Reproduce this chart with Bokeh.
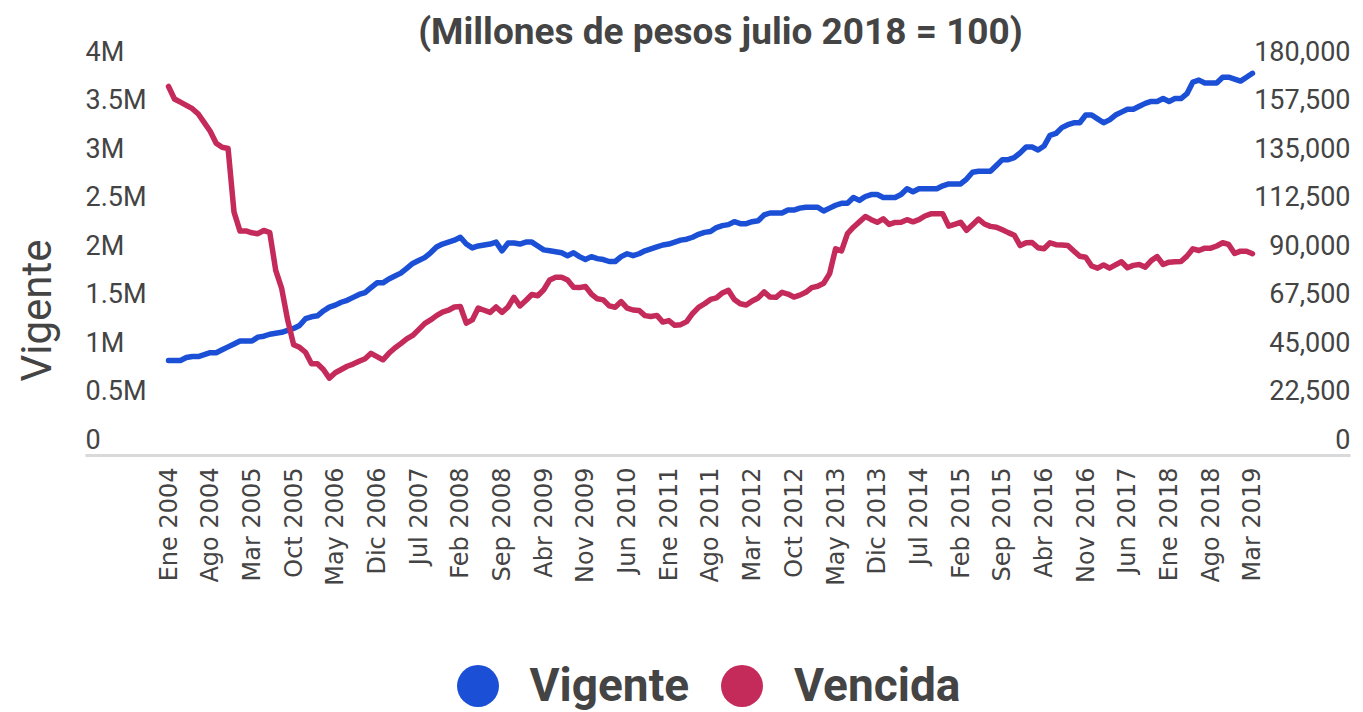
import math
from bokeh.plotting import figure
from bokeh.layouts import row, column
from bokeh.models import (Range1d, FixedTicker, ColumnDataSource, LabelSet, Label,
                          Legend, LegendItem)
from bokeh.core.properties import value
from bokeh.embed import file_html
from bokeh.resources import INLINE

# ---------------- data ----------------
meses = ["Ene", "Feb", "Mar", "Abr", "May", "Jun", "Jul", "Ago", "Sep", "Oct", "Nov", "Dic"]
fechas = [f"{m} {a}" for a in range(2004, 2020) for m in meses][:183]   # Ene 2004 .. Mar 2019

# Cartera vigente (millones de pesos, expressed in M)
vigente_M = [
    0.98, 0.98, 0.98, 1.01, 1.02, 1.02, 1.04, 1.06, 1.06, 1.09, 1.12, 1.15,
    1.18, 1.18, 1.18, 1.22, 1.23, 1.25, 1.26, 1.27, 1.29, 1.31, 1.34, 1.41,
    1.43, 1.44, 1.49, 1.53, 1.55, 1.58, 1.60, 1.63, 1.66, 1.68, 1.73, 1.78,
    1.78, 1.82, 1.85, 1.88, 1.93, 1.98, 2.01, 2.04, 2.09, 2.15, 2.18, 2.20,
    2.22, 2.25, 2.18, 2.14, 2.16, 2.17, 2.18, 2.20, 2.11, 2.19, 2.19, 2.18,
    2.20, 2.20, 2.16, 2.12, 2.11, 2.10, 2.09, 2.06, 2.09, 2.05, 2.02, 2.05,
    2.03, 2.02, 2.00, 2.00, 2.05, 2.08, 2.06, 2.08, 2.11, 2.13, 2.15, 2.17,
    2.18, 2.20, 2.22, 2.23, 2.25, 2.28, 2.30, 2.31, 2.35, 2.37, 2.38, 2.41,
    2.39, 2.39, 2.41, 2.42, 2.48, 2.50, 2.50, 2.50, 2.53, 2.53, 2.55, 2.56,
    2.56, 2.56, 2.52, 2.55, 2.58, 2.60, 2.60, 2.66, 2.63, 2.67, 2.69, 2.69,
    2.66, 2.66, 2.66, 2.69, 2.75, 2.72, 2.75, 2.75, 2.75, 2.75, 2.78, 2.80,
    2.80, 2.80, 2.85, 2.92, 2.93, 2.93, 2.93, 2.99, 3.05, 3.05, 3.07, 3.12,
    3.18, 3.18, 3.15, 3.19, 3.30, 3.32, 3.38, 3.41, 3.43, 3.43, 3.51, 3.51,
    3.47, 3.43, 3.46, 3.51, 3.54, 3.57, 3.57, 3.60, 3.63, 3.65, 3.65, 3.68,
    3.65, 3.68, 3.68, 3.73, 3.85, 3.87, 3.84, 3.84, 3.84, 3.90, 3.90, 3.88,
    3.86, 3.90, 3.94,
]

# Cartera vencida (miles de millones de pesos)
vencida_miles = [
    171.2, 165.4, 163.9, 162.4, 160.9, 158.4, 154.4, 150.4, 144.9, 143.0, 142.4, 112.9,
    104.1, 104.2, 103.3, 102.9, 104.4, 103.4, 85.9, 77.5, 62.9, 51.4, 50.2, 47.9,
    42.6, 42.6, 39.9, 35.9, 38.4, 39.9, 41.4, 42.4, 43.7, 44.9, 47.4, 45.9,
    44.4, 47.4, 49.9, 51.9, 54.1, 55.7, 58.4, 61.2, 62.9, 64.9, 66.5, 67.4,
    68.9, 69.1, 61.4, 62.9, 68.4, 67.4, 66.4, 68.9, 66.4, 68.9, 73.4, 69.4,
    71.9, 74.7, 74.1, 76.9, 81.4, 82.7, 82.7, 81.4, 78.1, 77.9, 78.4, 74.9,
    72.7, 72.2, 69.4, 68.8, 71.4, 68.4, 67.5, 67.3, 64.9, 64.5, 65.0, 61.9,
    62.6, 60.4, 60.7, 62.1, 65.9, 68.7, 70.4, 72.4, 73.1, 75.4, 76.6, 72.4,
    70.4, 69.8, 71.7, 73.1, 75.9, 73.5, 73.4, 75.7, 74.9, 73.5, 74.4, 75.7,
    77.9, 78.5, 79.9, 84.4, 95.9, 94.9, 102.9, 105.9, 108.4, 110.9, 109.4, 108.2,
    109.8, 107.2, 108.1, 108.2, 109.4, 108.4, 109.4, 111.1, 112.1, 112.1, 112.1, 106.4,
    107.2, 108.2, 104.5, 107.1, 109.7, 107.4, 106.3, 105.9, 104.7, 103.4, 102.2, 97.4,
    98.7, 98.8, 96.4, 95.9, 98.7, 97.8, 97.6, 97.4, 94.9, 92.4, 92.0, 87.9,
    86.9, 88.4, 86.9, 88.4, 89.9, 87.1, 88.2, 88.6, 87.4, 90.4, 92.3, 88.6,
    89.7, 89.9, 90.0, 92.5, 95.9, 95.1, 96.2, 96.2, 97.2, 98.7, 97.9, 93.7,
    94.8, 94.8, 93.6,
]

ticks_izq = [0, 0.5, 1, 1.5, 2, 2.5, 3, 3.5, 4]
etiq_izq = ["0", "0.5M", "1M", "1.5M", "2M", "2.5M", "3M", "3.5M", "4M"]
ticks_der = [0, 22.5, 45, 67.5, 90, 112.5, 135, 157.5, 180]
etiq_der = ["0", "22,500", "45,000", "67,500", "90,000", "112,500", "135,000", "157,500", "180,000"]

titulo = "(Millones de pesos julio 2018 = 100)"
series = ["Vigente", "Vencida"]

# ---------------- styling / layout ----------------
AZUL = "#1a4fd6"
ROJO = "#c42a5a"
GRIS = "#444444"

FRAME_W, FRAME_H = 1265, 455      # plot area; value 0 sits on its bottom edge
SCALE_H = 388                      # pixels from 0 to the top tick (4M / 180,000)
MAIN_H = 600
LEG_H = 712 - MAIN_H
LEFT_W = 85

idx = list(range(len(fechas)))

p = figure(frame_width=FRAME_W, frame_height=FRAME_H,
           x_range=Range1d(-13.94, 198.46),
           y_range=Range1d(0, ticks_izq[-1] * FRAME_H / SCALE_H),
           output_backend="svg", toolbar_location=None, y_axis_location=None,
           min_border_left=0, min_border_right=13, min_border_top=0,
           min_border_bottom=MAIN_H - FRAME_H,
           background_fill_color="white", border_fill_color="white", outline_line_color=None)
p.extra_y_ranges = {"venc": Range1d(0, ticks_der[-1] * FRAME_H / SCALE_H)}

p.xgrid.visible = False
p.ygrid.visible = False

ax = p.xaxis[0]
tick_pos = list(range(0, len(fechas), 7))
ax.ticker = FixedTicker(ticks=tick_pos)
ax.major_label_overrides = {i: fechas[i] for i in tick_pos}
ax.major_label_orientation = math.pi / 2
ax.major_label_text_font = "DejaVu Sans"
ax.major_label_text_font_size = "24px"
ax.major_label_text_color = GRIS
ax.major_label_standoff = 12
ax.major_tick_out = 0
ax.major_tick_in = 0
ax.minor_tick_out = 0
ax.minor_tick_in = 0
ax.axis_line_color = "#d9d9d9"
ax.axis_line_width = 3

p.line(idx, vigente_M, color=AZUL, line_width=5.5, line_join="round", line_cap="round")
p.line(idx, vencida_miles, y_range_name="venc", color=ROJO, line_width=5.5,
       line_join="round", line_cap="round")

src_izq = ColumnDataSource(dict(y=ticks_izq, text=etiq_izq))
src_der = ColumnDataSource(dict(y=ticks_der, text=etiq_der))
p.add_layout(LabelSet(x=0, y="y", text="text", source=src_izq, x_units="screen",
                      text_align="left", text_baseline="alphabetic", y_offset=7,
                      text_font=value("Roboto"), text_font_size="27px", text_color=GRIS))
p.add_layout(LabelSet(x=FRAME_W, y="y", text="text", source=src_der, x_units="screen",
                      y_range_name="venc",
                      text_align="right", text_baseline="alphabetic", y_offset=7,
                      text_font=value("Roboto"), text_font_size="27px", text_color=GRIS))

# title, drawn inside the plot area (top band)
p.add_layout(Label(x=635, y=FRAME_H - 31, x_units="screen", y_units="screen", text=titulo,
                   text_align="center", text_baseline="middle",
                   text_font="Roboto", text_font_style="bold", text_font_size="37px",
                   text_color=GRIS))

# ---- left strip with the axis title ----
izq = figure(width=LEFT_W, height=712, x_range=Range1d(0, 1), y_range=Range1d(0, 1),
             output_backend="svg", toolbar_location=None,
             x_axis_location=None, y_axis_location=None,
             min_border=0, outline_line_color=None,
             background_fill_color="white", border_fill_color="white")
izq.xgrid.visible = False
izq.ygrid.visible = False
izq.add_layout(Label(x=36, y=712 - 310, x_units="screen", y_units="screen", text=series[0],
                     angle=math.pi / 2, text_align="center", text_baseline="middle",
                     text_font="Roboto", text_font_size="42px", text_color=GRIS))

# ---- legend strip ----
ley = figure(width=FRAME_W + 13, height=LEG_H, x_range=Range1d(0, 1), y_range=Range1d(0, 1),
             output_backend="svg", toolbar_location=None,
             x_axis_location=None, y_axis_location=None,
             min_border=0, outline_line_color=None,
             background_fill_color="white", border_fill_color="white")
ley.xgrid.visible = False
ley.ygrid.visible = False
nan = float("nan")
r_b = ley.scatter(x=[nan], y=[nan], marker="circle", size=10, fill_color=AZUL, line_color=None)
r_r = ley.scatter(x=[nan], y=[nan], marker="circle", size=10, fill_color=ROJO, line_color=None)
legend = Legend(items=[LegendItem(label=series[0], renderers=[r_b]),
                       LegendItem(label=series[1], renderers=[r_r])],
                location=(339.5, -25.5), orientation="horizontal",
                glyph_width=105, glyph_height=105, label_standoff=0, spacing=-8,
                padding=0, margin=0, border_line_color=None, background_fill_alpha=0,
                label_text_font="Roboto", label_text_font_style="bold",
                label_text_font_size="46px", label_text_color=GRIS)
ley.add_layout(legend)

layout = row(izq, column(p, ley))
open("out.html", "w").write(file_html(layout, INLINE))
